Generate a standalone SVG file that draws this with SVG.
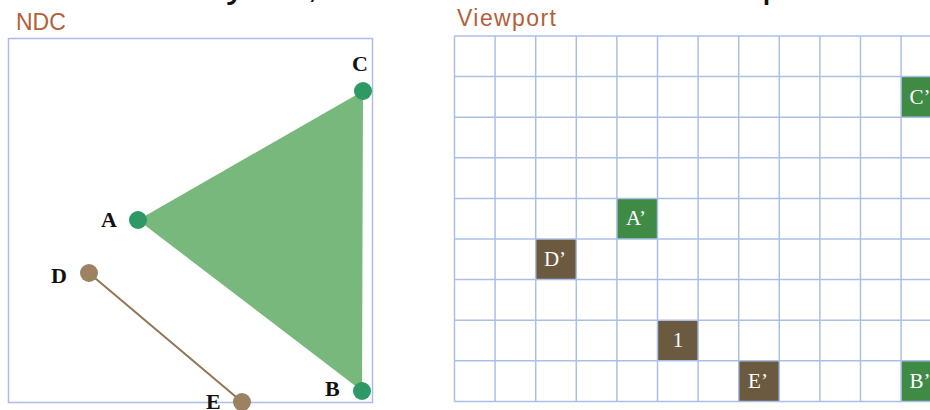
<svg xmlns="http://www.w3.org/2000/svg" width="930" height="410" viewBox="0 0 930 410">
<style>
.title{font-family:"Liberation Sans","DejaVu Sans",sans-serif;font-size:23px;fill:#b3603a}
.frag{font-family:"Liberation Sans","DejaVu Sans",sans-serif;font-size:40px;fill:#111}
.lbl{font-family:"Liberation Serif","DejaVu Serif",serif;font-size:22px;font-weight:bold;fill:#111}
.vtx{fill:#2d9964}
.pt{fill:#9c8261}
.grid line{stroke:#aabfe6;stroke-width:1.5}
.g{fill:#3f8a45}
.b{fill:#6b5a3f}
.cl{font-family:"Liberation Serif","DejaVu Serif",serif;font-size:21px;fill:#fff;text-anchor:middle}
</style>
<rect width="930" height="410" fill="#fff"/>
<text class="frag" y="-3"><tspan x="226">y</tspan><tspan x="307">,</tspan><tspan x="762">p</tspan></text>
<g id="ndc">
<text class="title" x="16" y="30">NDC</text>
<rect x="8.5" y="38.5" width="364" height="364" fill="none" stroke="#a9bde8" stroke-width="1.5"/>
<polygon id="triangle" points="138,220 363,91 362,391" fill="#78b87c"/>
</g>
<g id="connectors">
<line x1="89" y1="273" x2="242" y2="402" stroke="#8f7655" stroke-width="2"/>
</g>
<g id="A"><circle class="vtx" cx="138" cy="220" r="9"/><text class="lbl" x="101" y="227">A</text></g>
<g id="B"><circle class="vtx" cx="362" cy="391" r="9"/><text class="lbl" x="325" y="396">B</text></g>
<g id="C"><circle class="vtx" cx="363" cy="91" r="9"/><text class="lbl" x="352" y="71">C</text></g>
<g id="D"><circle class="pt" cx="89" cy="273" r="9"/><text class="lbl" x="51" y="283">D</text></g>
<g id="E"><circle class="pt" cx="242" cy="402" r="9"/><text class="lbl" x="206" y="409">E</text></g>
<g id="viewport">
<text class="title" x="457" y="26" textLength="99">Viewport</text>
<g id="cells">
<rect class="g" x="901.1" y="76.6" width="40.6" height="40.6"/>
<rect class="g" x="616.9" y="198.4" width="40.6" height="40.6"/>
<rect class="b" x="535.7" y="239" width="40.6" height="40.6"/>
<rect class="b" x="657.5" y="320.2" width="40.6" height="40.6"/>
<rect class="b" x="738.7" y="360.8" width="40.6" height="40.6"/>
<rect class="g" x="901.1" y="360.8" width="40.6" height="40.6"/>
</g>
<g class="grid">
<line x1="454.5" y1="36" x2="454.5" y2="401.4"/>
<line x1="495.1" y1="36" x2="495.1" y2="401.4"/>
<line x1="535.7" y1="36" x2="535.7" y2="401.4"/>
<line x1="576.3" y1="36" x2="576.3" y2="401.4"/>
<line x1="616.9" y1="36" x2="616.9" y2="401.4"/>
<line x1="657.5" y1="36" x2="657.5" y2="401.4"/>
<line x1="698.1" y1="36" x2="698.1" y2="401.4"/>
<line x1="738.7" y1="36" x2="738.7" y2="401.4"/>
<line x1="779.3" y1="36" x2="779.3" y2="401.4"/>
<line x1="819.9" y1="36" x2="819.9" y2="401.4"/>
<line x1="860.5" y1="36" x2="860.5" y2="401.4"/>
<line x1="901.1" y1="36" x2="901.1" y2="401.4"/>
<line x1="454.5" y1="36" x2="930" y2="36"/>
<line x1="454.5" y1="76.6" x2="930" y2="76.6"/>
<line x1="454.5" y1="117.2" x2="930" y2="117.2"/>
<line x1="454.5" y1="157.8" x2="930" y2="157.8"/>
<line x1="454.5" y1="198.4" x2="930" y2="198.4"/>
<line x1="454.5" y1="239" x2="930" y2="239"/>
<line x1="454.5" y1="279.6" x2="930" y2="279.6"/>
<line x1="454.5" y1="320.2" x2="930" y2="320.2"/>
<line x1="454.5" y1="360.8" x2="930" y2="360.8"/>
<line x1="454.5" y1="401.4" x2="930" y2="401.4"/>
</g>
<g id="Cp"><text class="cl" x="920" y="104">C’</text></g>
<g id="Ap"><text class="cl" x="636" y="225">A’</text></g>
<g id="Dp"><text class="cl" x="555" y="266">D’</text></g>
<g id="one"><text class="cl" x="678" y="347">1</text></g>
<g id="Ep"><text class="cl" x="758" y="388">E’</text></g>
<g id="Bp"><text class="cl" x="920" y="388">B’</text></g>
</g>
</svg>
